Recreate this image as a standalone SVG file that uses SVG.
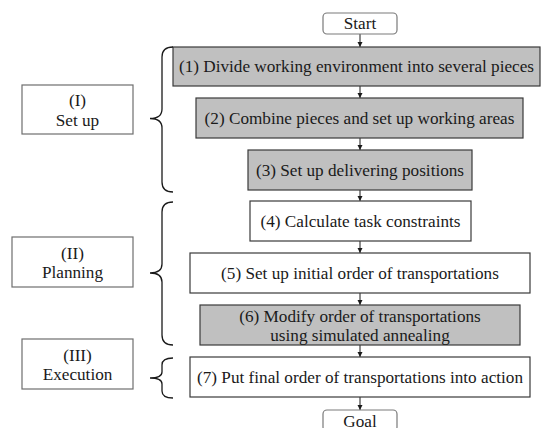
<svg xmlns="http://www.w3.org/2000/svg" width="542" height="428" viewBox="0 0 542 428">
<defs>
<style>
text{font-family:"Liberation Serif","Times New Roman",serif;font-size:17.2px;fill:#1a1a1a;text-anchor:middle}
.gray{fill:#c0c0c0;stroke:#3a3a3a;stroke-width:1.2}
.white{fill:#ffffff;stroke:#3a3a3a;stroke-width:1.2}
.phase{fill:#ffffff;stroke:#6e6e6e;stroke-width:1.2}
.term{fill:#ffffff;stroke:#7a7a7a;stroke-width:1.2}
.brace{fill:none;stroke:#1a1a1a;stroke-width:1.3}
.arrow{stroke:#1a1a1a;stroke-width:1;fill:none;marker-end:url(#ah)}
</style>
<marker id="ah" markerUnits="userSpaceOnUse" markerWidth="8" markerHeight="8" refX="5" refY="2.5" orient="auto">
<path d="M0,0 L5,2.5 L0,5 Z" fill="#1a1a1a"/>
</marker>
</defs>
<g id="connectors">
<line class="arrow" x1="360" y1="34" x2="360" y2="47"/>
<line class="arrow" x1="360" y1="86" x2="360" y2="98"/>
<line class="arrow" x1="360" y1="138" x2="360" y2="150"/>
<line class="arrow" x1="360" y1="190" x2="360" y2="201"/>
<line class="arrow" x1="360" y1="241" x2="360" y2="253"/>
<line class="arrow" x1="360" y1="293" x2="360" y2="305"/>
<line class="arrow" x1="360" y1="345" x2="360" y2="357"/>
<line class="arrow" x1="360" y1="397" x2="360" y2="410"/>
</g>
<g id="start"><rect class="term" x="323" y="13" width="74" height="21" rx="4"/><text x="360" y="29">Start</text></g>
<g id="step1"><rect class="gray" x="173" y="47" width="367" height="39"/><text x="356.5" y="72">(1) Divide working environment into several pieces</text></g>
<g id="step2"><rect class="gray" x="196" y="98" width="327" height="40"/><text x="359.5" y="124">(2) Combine pieces and set up working areas</text></g>
<g id="step3"><rect class="gray" x="248" y="150" width="224" height="40"/><text x="360" y="176">(3) Set up delivering positions</text></g>
<g id="step4"><rect class="white" x="250" y="201" width="221" height="40"/><text x="360.5" y="227">(4) Calculate task constraints</text></g>
<g id="step5"><rect class="white" x="190" y="253" width="340" height="40"/><text x="360" y="279">(5) Set up initial order of transportations</text></g>
<g id="step6"><rect class="gray" x="200" y="305" width="320" height="40"/><text x="360" y="321.5">(6) Modify order of transportations</text><text x="360" y="341">using simulated annealing</text></g>
<g id="step7"><rect class="white" x="190" y="357" width="340" height="40"/><text x="360" y="383">(7) Put final order of transportations into action</text></g>
<g id="goal"><rect class="term" x="323" y="410" width="74" height="21" rx="4"/><text x="360" y="426.5">Goal</text></g>
<g id="phase1"><rect class="phase" x="22" y="85" width="111" height="49"/><text x="77.5" y="106">(I)</text><text x="77.5" y="125.5">Set up</text></g>
<g id="phase2"><rect class="phase" x="12" y="237" width="121" height="50"/><text x="72.5" y="258.5">(II)</text><text x="72.5" y="278">Planning</text></g>
<g id="phase3"><rect class="phase" x="22" y="339" width="111" height="50"/><text x="77.5" y="360.5">(III)</text><text x="77.5" y="380">Execution</text></g>
<g id="braces">
<path class="brace" d="M173,47 C166,47 162,50 162,57 L162,109 C162,115 158,118.5 150,118.5 C158,118.5 162,122 162,128 L162,182 C162,189 166,192 173,192"/>
<path class="brace" d="M173,202 C166,202 162,205 162,212 L162,264 C162,270 158,273 150,273 C158,273 162,276 162,282 L162,335 C162,342 166,345 173,345"/>
<path class="brace" d="M173,358 C166,358 162,360 162,365 L162,372 C162,376 158,378 150,378 C158,378 162,380 162,384 L162,391 C162,396 166,398 173,398"/>
</g>
</svg>
